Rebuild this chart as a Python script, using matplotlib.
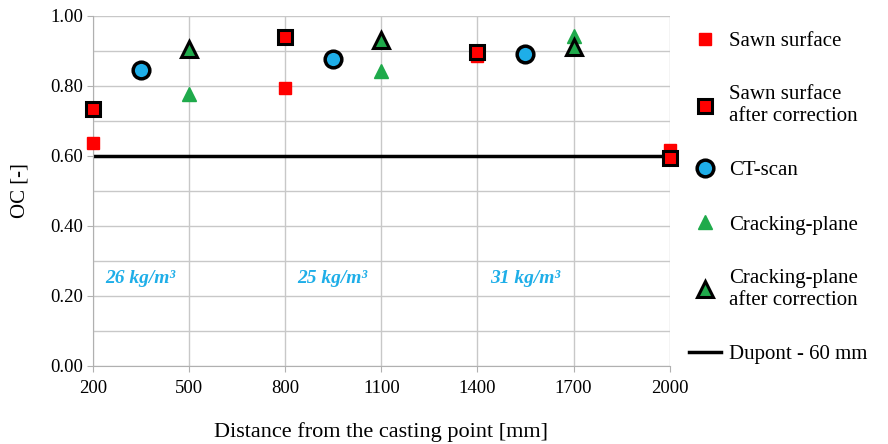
import matplotlib.pyplot as plt
from matplotlib.ticker import MultipleLocator

# data
x_sawn = [200, 800, 1400, 2000]
oc_sawn = [0.637, 0.794, 0.885, 0.618]
oc_sawn_corr = [0.734, 0.940, 0.898, 0.595]

x_ct = [350, 950, 1550]
oc_ct = [0.846, 0.877, 0.890]

x_crack = [500, 1100, 1700]
oc_crack = [0.777, 0.843, 0.943]
oc_crack_corr = [0.906, 0.930, 0.910]

dupont_x = [200, 2000]
dupont_oc = [0.60, 0.60]

fibre_labels = ["26 kg/m³", "25 kg/m³", "31 kg/m³"]
fibre_x = [237, 837, 1440]

x_ticks = [200, 500, 800, 1100, 1400, 1700, 2000]

red = "#ff0000"
blue = "#1eaee8"
green = "#1faa4b"
grid_c = "#c8c8c8"

plt.rcParams['font.family'] = ['Liberation Serif', 'DejaVu Serif']

fig = plt.figure(figsize=(8.88, 4.44), dpi=100)
ax = fig.add_axes([0.105, 0.176, 0.649, 0.788])

ax.plot(x_sawn, oc_sawn, ls='none', marker='s', ms=9, color=red, mec=red,
        label="Sawn surface", zorder=3, clip_on=False)
ax.plot(x_sawn, oc_sawn_corr, ls='none', marker='s', ms=10, color=red, mec='black', mew=2.2,
        label="Sawn surface\nafter correction", zorder=4, clip_on=False)
ax.plot(x_ct, oc_ct, ls='none', marker='o', ms=12, color=blue, mec='black', mew=2.5,
        label="CT-scan", zorder=4, clip_on=False)
ax.plot(x_crack, oc_crack, ls='none', marker='^', ms=10, color=green, mec=green,
        label="Cracking-plane", zorder=3, clip_on=False)
ax.plot(x_crack, oc_crack_corr, ls='none', marker='^', ms=11, color=green, mec='black', mew=2.2,
        label="Cracking-plane\nafter correction", zorder=4, clip_on=False)
ax.plot(dupont_x, dupont_oc, color='black', lw=2.5, label="Dupont - 60 mm", zorder=2)

for xl, txt in zip(fibre_x, fibre_labels):
    ax.text(xl, 0.25, txt, color=blue, fontsize=14, style='italic', weight='bold',
            va='center', ha='left')

ax.set_xlim(200, 2000)
ax.set_ylim(0, 1.0)
ax.set_xticks(x_ticks)
ax.yaxis.set_major_locator(MultipleLocator(0.2))
ax.yaxis.set_minor_locator(MultipleLocator(0.1))
ax.yaxis.set_major_formatter(lambda v, p: f"{v:.2f}")
ax.grid(True, which='both', color=grid_c, lw=1)
ax.set_axisbelow(True)
for s in ['top', 'right']:
    ax.spines[s].set_visible(False)
for s in ['left', 'bottom']:
    ax.spines[s].set_color('#b0b0b0')
ax.tick_params(axis='both', which='major', labelsize=13.5, color='#b0b0b0', length=4)
ax.tick_params(axis='x', which='major', pad=6)
ax.tick_params(axis='y', which='minor', length=0)

ax.set_xlabel("Distance from the casting point [mm]", fontsize=16)
ax.xaxis.set_label_coords(0.5, -0.16)
ax.set_ylabel("OC [-]", fontsize=15)
ax.yaxis.set_label_coords(-0.11, 0.5)

ax.legend(loc='upper left', bbox_to_anchor=(1.02, 0.98), frameon=False, fontsize=15,
          labelspacing=1.66, handlelength=1.5, handletextpad=0.4, borderaxespad=0)

fig.savefig("out.png", dpi=100)
